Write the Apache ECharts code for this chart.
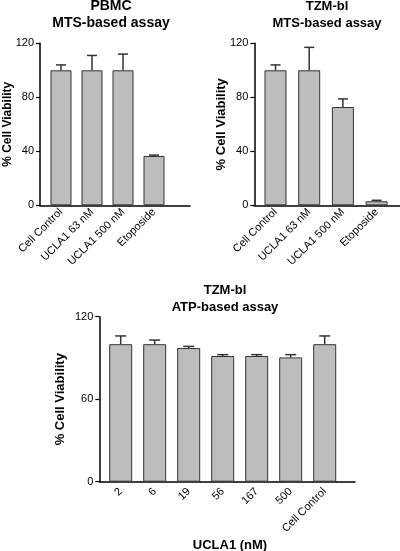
<!DOCTYPE html>
<html>
<head>
<meta charset="utf-8">
<script src="https://cdn.jsdelivr.net/npm/echarts@6/dist/echarts.min.js"></script>
<style>html,body{margin:0;padding:0;background:#fff;}#c{width:400px;height:551px;}</style>
</head>
<body>
<div id="c"></div>
<script>
// ---- data ----
const mtsCategories = ['Cell Control', 'UCLA1 63 nM', 'UCLA1 500 nM', 'Etoposide'];
const pbmcValues = [100, 100, 100, 36.5];
const pbmcErrors = [4, 11, 12, 0.7];
const tzmMtsValues = [100, 100, 72.8, 3];
const tzmMtsErrors = [4, 17, 6, 0.7];
const atpCategories = ['2', '6', '19', '56', '167', '500', 'Cell Control'];
const atpValues = [100, 100, 97.2, 91.4, 91.4, 90.4, 100];
const atpErrors = [6, 3, 1.2, 1, 1, 2, 6];
const mtsTicks = [0, 40, 80, 120];
const atpTicks = [0, 60, 120];

const FONT = '"Liberation Sans", Arial, Helvetica, sans-serif';

function pairs(vals) { return vals.map((v, i) => [i, v]); }
function triples(vals, errs) { return vals.map((v, i) => [i, v, errs[i]]); }

function errRender(capW) {
  return function (params, api) {
    const x = api.value(0), v = api.value(1), e = api.value(2);
    const p0 = api.coord([x, v]);
    const p1 = api.coord([x, v + e]);
    const hw = capW / 2;
    const st = { stroke: '#333', lineWidth: 1.5 };
    return {
      type: 'group',
      children: [
        { type: 'line', shape: { x1: p0[0], y1: p0[1], x2: p1[0], y2: p1[1] }, style: st },
        { type: 'line', shape: { x1: p1[0] - hw, y1: p1[1], x2: p1[0] + hw, y2: p1[1] }, style: st }
      ]
    };
  };
}

function xAxisDef(gi, cats, min, max, margin) {
  return {
    type: 'value', gridIndex: gi, min: min, max: max,
    splitLine: { show: false },
    axisTick: { show: false },
    axisLine: { show: true, onZero: false, lineStyle: { color: '#000', width: 1.5 } },
    axisLabel: {
      customValues: cats.map((c, i) => i),
      formatter: v => cats[Math.round(v)],
      rotate: 45, fontSize: 11, color: '#000', fontFamily: FONT, margin: margin
    }
  };
}

function yAxisDef(gi, ticks, interval, nameSize, nameGap) {
  return {
    type: 'value', gridIndex: gi, min: ticks[0], max: ticks[ticks.length - 1], interval: interval,
    name: '% Cell Viability', nameLocation: 'middle', nameRotate: 90, nameGap: nameGap,
    nameMoveOverlap: false,
    nameTextStyle: { fontSize: nameSize, fontWeight: 'bold', color: '#000', fontFamily: FONT },
    splitLine: { show: false },
    axisTick: { show: true, length: 4, lineStyle: { color: '#000', width: 1.2 } },
    axisLine: { show: true, onZero: false, lineStyle: { color: '#000', width: 1.5 } },
    axisLabel: { fontSize: 11, color: '#000', fontFamily: FONT, margin: 6 }
  };
}

const barStyle = { color: '#bdbdbd', borderColor: '#333', borderWidth: 1 };

const chart = echarts.init(document.getElementById('c'), null, { renderer: 'canvas' });
chart.setOption({
  animation: false,
  backgroundColor: '#fff',
  title: [
    { text: 'PBMC\nMTS-based assay', left: 111, top: -2, padding: 0, textAlign: 'center',
      textStyle: { fontSize: 14, fontWeight: 'bold', color: '#000', fontFamily: FONT, lineHeight: 17 } },
    { text: 'TZM-bl\nMTS-based assay', left: 327, top: -2, padding: 0, textAlign: 'center',
      textStyle: { fontSize: 13, fontWeight: 'bold', color: '#000', fontFamily: FONT, lineHeight: 17 } },
    { text: 'TZM-bl\nATP-based assay', left: 225, top: 282, padding: 0, textAlign: 'center',
      textStyle: { fontSize: 13, fontWeight: 'bold', color: '#000', fontFamily: FONT, lineHeight: 17 } },
    { text: 'UCLA1 (nM)', left: 225, top: 534, textAlign: 'center',
      textStyle: { fontSize: 13, fontWeight: 'bold', color: '#000', fontFamily: FONT } }
  ],
  grid: [
    { left: 40, top: 43.3, width: 150, height: 162, outerBoundsMode: 'none', containLabel: false },
    { left: 254.3, top: 43.3, width: 145.7, height: 162, outerBoundsMode: 'none', containLabel: false },
    { left: 99.3, top: 316.7, width: 255.7, height: 165, outerBoundsMode: 'none', containLabel: false }
  ],
  xAxis: [
    xAxisDef(0, mtsCategories, -0.677, 4.161, 5),
    xAxisDef(1, mtsCategories, -0.629, 3.694, 5),
    xAxisDef(2, atpCategories, -0.629, 6.891, 8)
  ],
  yAxis: [
    yAxisDef(0, mtsTicks, 40, 12, 26),
    yAxisDef(1, mtsTicks, 40, 13, 26),
    yAxisDef(2, atpTicks, 60, 13, 32)
  ],
  series: [
    { type: 'bar', xAxisIndex: 0, yAxisIndex: 0, barWidth: 21, data: pairs(pbmcValues), itemStyle: barStyle },
    { type: 'custom', xAxisIndex: 0, yAxisIndex: 0, renderItem: errRender(10), data: triples(pbmcValues, pbmcErrors), z: 3 },
    { type: 'bar', xAxisIndex: 1, yAxisIndex: 1, barWidth: 22, data: pairs(tzmMtsValues), itemStyle: barStyle },
    { type: 'custom', xAxisIndex: 1, yAxisIndex: 1, renderItem: errRender(10), data: triples(tzmMtsValues, tzmMtsErrors), z: 3 },
    { type: 'bar', xAxisIndex: 2, yAxisIndex: 2, barWidth: 23, data: pairs(atpValues), itemStyle: barStyle },
    { type: 'custom', xAxisIndex: 2, yAxisIndex: 2, renderItem: errRender(11), data: triples(atpValues, atpErrors), z: 3 }
  ]
});
</script>
</body>
</html>
